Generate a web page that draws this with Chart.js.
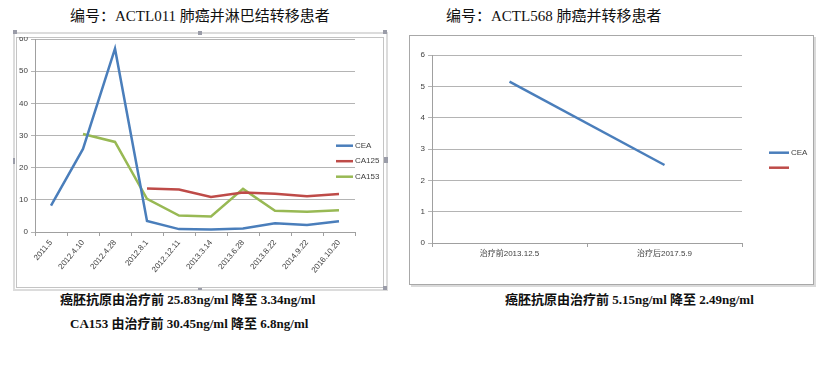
<!DOCTYPE html>
<html><head><meta charset="utf-8">
<script src="https://cdn.jsdelivr.net/npm/chart.js@4/dist/chart.umd.min.js"></script>
<style>
html,body{margin:0;padding:0;background:#fff;width:827px;height:375px;overflow:hidden;position:relative;}
.abs{position:absolute;}
.title{font-family:"Liberation Serif","Noto Sans CJK SC",serif;font-size:15px;color:#111;white-space:nowrap;line-height:16px;}
.note{font-family:"Liberation Serif","Noto Sans CJK SC",serif;font-size:13px;font-weight:bold;color:#111;white-space:nowrap;line-height:14px;}
.handle{position:absolute;width:4px;height:4px;background:#9a9ca8;}
</style></head>
<body>
<div class="abs title" style="left:70px;top:8px;">编号：ACTL011 肺癌并淋巴结转移患者</div>
<div class="abs title" style="left:446px;top:8px;">编号：ACTL568 肺癌并转移患者</div>

<div class="abs" style="left:13px;top:32px;width:371px;height:255px;border:2px solid #dcdcdc;"></div>
<div class="abs" style="left:16px;top:37px;width:366px;height:249px;border:1px solid #c4c4c4;"></div>
<div class="handle" style="left:13px;top:30px;"></div>
<div class="handle" style="left:198px;top:31px;"></div>
<div class="handle" style="left:383px;top:30px;"></div>
<div class="handle" style="left:13px;top:158px;width:2px;height:6px;"></div>
<div class="handle" style="left:384px;top:157px;height:6px;"></div>
<div class="handle" style="left:383px;top:286px;"></div>
<div class="handle" style="left:198px;top:288px;height:2px;"></div>
<canvas id="c1" class="abs" style="left:16px;top:37px;" width="367" height="250"></canvas>

<div class="abs" style="left:409px;top:35px;width:403px;height:248px;border:1px solid #a8a8a8;box-shadow:2px 2px 0 #dadada;"></div>
<canvas id="c2" class="abs" style="left:410px;top:36px;" width="403" height="248"></canvas>

<div class="abs note" style="left:60px;top:293px;">癌胚抗原由治疗前 25.83ng/ml 降至 3.34ng/ml</div>
<div class="abs note" style="left:70px;top:317px;">CA153 由治疗前 30.45ng/ml 降至 6.8ng/ml</div>
<div class="abs note" style="left:505px;top:293px;">癌胚抗原由治疗前 5.15ng/ml 降至 2.49ng/ml</div>

<script>
// ---- data: left chart ----
const dates1 = ['2011.5','2012.4.10','2012.4.28','2012.8.1','2012.12.11','2013.3.14','2013.6.28','2013.8.22','2014.9.22','2016.10.20'];
const cea1   = [8.2, 25.83, 57, 3.4, 0.9, 0.8, 1.1, 2.7, 2.2, 3.34];
const ca125  = [null, null, null, 13.5, 13.2, 10.9, 12.3, 11.9, 11.1, 11.8];
const ca153  = [null, 30.45, 28, 10.3, 5.1, 4.8, 13.4, 6.6, 6.3, 6.8];
const yTicks1 = [0, 10, 20, 30, 40, 50, 60];
// ---- data: right chart ----
const dates2 = ['治疗前2013.12.5', '治疗后2017.5.9'];
const cea2   = [5.15, 2.49];
const empty2 = [null, null];
const yTicks2 = [0, 1, 2, 3, 4, 5, 6];

const BLUE = '#4a7ebb', RED = '#be4b48', GREEN = '#98b954';
const FONT = {family: '"Liberation Sans","Noto Sans CJK SC",sans-serif', size: 8};
const TXT = '#404040';

const legendPlugin = {
  id: 'manualLegend',
  afterDraw(chart, args, opts) {
    const ctx = chart.ctx;
    ctx.save();
    chart.data.datasets.forEach((ds, i) => {
      const y = opts.y0 + i * opts.dy;
      ctx.strokeStyle = ds.borderColor;
      ctx.lineWidth = 2.5;
      ctx.beginPath();
      ctx.moveTo(opts.x0, y);
      ctx.lineTo(opts.x0 + opts.w, y);
      ctx.stroke();
      ctx.fillStyle = TXT;
      ctx.font = FONT.size + 'px ' + FONT.family;
      ctx.textBaseline = 'middle';
      ctx.textAlign = 'left';
      ctx.fillText(ds.label, opts.x0 + opts.w + 2, y);
    });
    ctx.restore();
  }
};

function yScale(max, ticks, width) {
  return {
    min: 0, max: max,
    afterBuildTicks: s => { s.ticks = ticks.map(v => ({value: v})); },
    afterFit: s => { s.width = width; s.paddingTop = 0; s.paddingBottom = 0; },
    ticks: {font: FONT, color: TXT, padding: 3},
    grid: {color: '#b4b4b4', lineWidth: 1, tickLength: 4},
    border: {display: true, color: '#a0a0a0'}
  };
}
function xScale(height, rot) {
  return {
    offset: true,
    afterFit: s => { s.height = height; s.paddingLeft = 0; s.paddingRight = 0; },
    ticks: {font: FONT, color: TXT, minRotation: rot, maxRotation: rot, autoSkip: false, padding: 2},
    grid: {offset: true, drawOnChartArea: false, drawTicks: true, tickLength: 4, color: '#a0a0a0'},
    border: {display: true, color: '#a0a0a0'}
  };
}

new Chart(document.getElementById('c1'), {
  type: 'line',
  data: {
    labels: dates1,
    datasets: [
      {label: 'CEA', data: cea1, borderColor: BLUE, borderWidth: 2.5},
      {label: 'CA125', data: ca125, borderColor: RED, borderWidth: 2.5},
      {label: 'CA153', data: ca153, borderColor: GREEN, borderWidth: 2.5}
    ]
  },
  options: {
    responsive: false, animation: false,
    elements: {point: {radius: 0}, line: {tension: 0, borderCapStyle: 'butt'}},
    layout: {padding: {top: 2, right: 28, left: 0, bottom: 0}},
    scales: {x: xScale(55, 50), y: yScale(60, yTicks1, 19)},
    plugins: {
      legend: {display: false}, tooltip: {enabled: false},
      manualLegend: {x0: 320, w: 17, y0: 108.7, dy: 15.5}
    }
  },
  plugins: [legendPlugin]
});

new Chart(document.getElementById('c2'), {
  type: 'line',
  data: {
    labels: dates2,
    datasets: [
      {label: 'CEA', data: cea2, borderColor: BLUE, borderWidth: 2.5},
      {label: '', data: empty2, borderColor: RED, borderWidth: 2.5}
    ]
  },
  options: {
    responsive: false, animation: false,
    elements: {point: {radius: 0}, line: {tension: 0}},
    layout: {padding: {top: 19, right: 71, left: 0, bottom: 0}},
    scales: {x: xScale(41, 0), y: yScale(6, yTicks2, 22)},
    plugins: {
      legend: {display: false}, tooltip: {enabled: false},
      manualLegend: {x0: 359, w: 20, y0: 116.7, dy: 15}
    }
  },
  plugins: [legendPlugin]
});
</script>
</body></html>
